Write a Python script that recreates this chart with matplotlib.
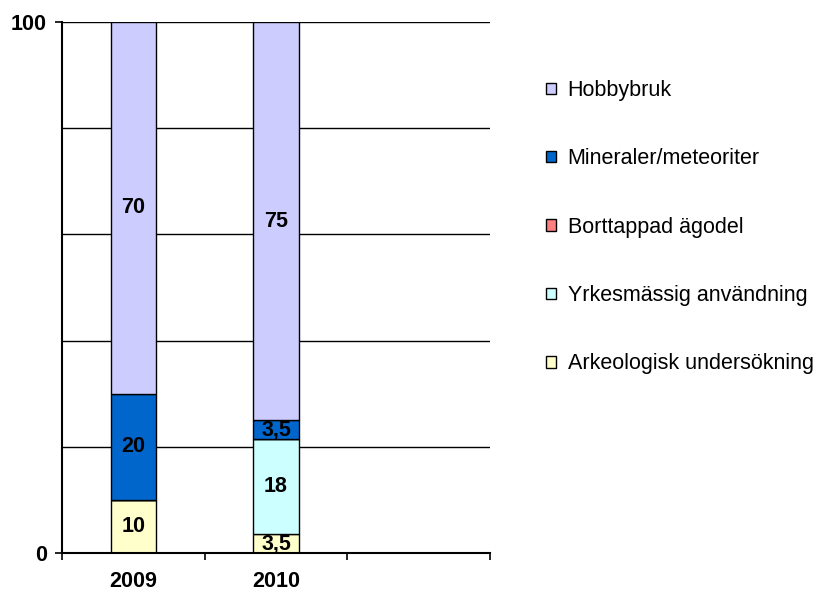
import numpy as np
import matplotlib
matplotlib.use("Agg")
import matplotlib.pyplot as plt

plt.rcParams['font.family'] = ['Liberation Sans', 'DejaVu Sans']

years = ["2009", "2010", ""]
# stacked from bottom to top
series = ["Arkeologisk undersökning", "Yrkesmässig användning", "Borttappad ägodel",
          "Mineraler/meteoriter", "Hobbybruk"]
arkeologisk = [10, 3.5, 0]
yrkesmassig = [0, 18, 0]
borttappad = [0, 0, 0]
mineraler = [20, 3.5, 0]
hobbybruk = [70, 75, 0]
colors = ["#FFFFCC", "#CCFFFF", "#FF8080", "#0066CC", "#CCCCFF"]
value_labels = [["10", "3,5", ""], ["", "18", ""], ["", "", ""],
                ["20", "3,5", ""], ["70", "75", ""]]

fs = 15.5

fig = plt.figure(figsize=(8.19, 5.94), dpi=100)
ax = fig.add_axes([62/819, 1-553/594, (490-62)/819, (553-22)/594])

x = np.arange(len(years))
bottom = np.zeros(len(years))
handles = []
for name, vals, col, labs in zip(series, [arkeologisk, yrkesmassig, borttappad, mineraler, hobbybruk],
                                 colors, value_labels):
    vals = np.array(vals, dtype=float)
    b = ax.bar(x, vals, width=0.32, bottom=bottom, color=col, edgecolor="black",
               linewidth=1.0, label=name, zorder=3)
    handles.append(b)
    for xi, v, bt, lab in zip(x, vals, bottom, labs):
        if lab:
            ax.text(xi, bt + v/2, lab, ha="center", va="center", fontsize=fs,
                    fontweight="bold", zorder=4)
    bottom += vals

ax.set_xlim(-0.5, 2.5)
ax.set_ylim(0, 100)
for gy in [20, 40, 60, 80, 100]:
    ax.axhline(gy, color="black", linewidth=1.0, zorder=1)

ax.set_yticks([0, 100])
ax.set_yticklabels(["0", "100"], fontsize=fs, fontweight="bold")
ax.set_xticks([-0.5, 0.5, 1.5, 2.5])
ax.set_xticklabels([])
ax.set_xticks(x[:2], minor=True)
ax.set_xticklabels(years[:2], minor=True, fontsize=fs, fontweight="bold")
ax.tick_params(axis="x", which="minor", length=0, pad=13)
ax.tick_params(axis="both", which="major", direction="out", length=5, width=1.2, color="black")
ax.tick_params(axis="y", pad=6)

for s in ["top", "right"]:
    ax.spines[s].set_visible(False)
for s in ["left", "bottom"]:
    ax.spines[s].set_linewidth(1.5)
    ax.spines[s].set_zorder(5)

leg = fig.legend(handles[::-1], series[::-1], loc="upper left",
                 bbox_to_anchor=(546/819, 1-80/594), frameon=False, fontsize=fs,
                 handlelength=0.45, handleheight=0.45, handletextpad=0.55,
                 labelspacing=2.2, borderaxespad=0, borderpad=0)

fig.savefig("out.png", dpi=100)
